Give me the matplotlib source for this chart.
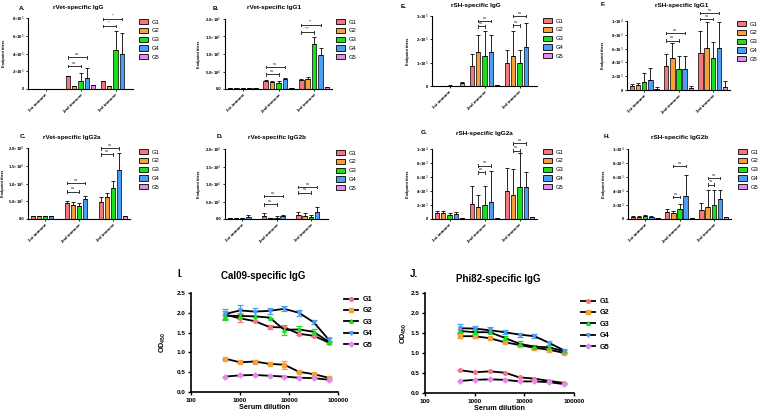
import matplotlib.pyplot as plt
import numpy as np
from matplotlib.patches import Rectangle
from matplotlib.lines import Line2D

plt.rcParams['font.family'] = ['Liberation Sans', 'DejaVu Sans']
plt.rcParams['mathtext.fontset'] = 'custom'
plt.rcParams['mathtext.rm'] = 'Liberation Sans'
plt.rcParams['mathtext.bf'] = 'Liberation Sans:bold'

groups = ['G1', 'G2', 'G3', 'G4', 'G5']
immunes = ['1st immune', '2nd immune', '3rd immune']
bar_colors = ['#F4777F', '#F5A03C', '#19E01F', '#4A9FF5', '#E58BEB']

# rows = G1..G5, columns = 1st / 2nd / 3rd immune
a_mean = [[2000, 143000, 87000], [2000, 38000, 30000], [2000, 87000, 445000],
          [3000, 125000, 390000], [2000, 40000, 3000]]
a_err = [[0, 0, 0], [0, 0, 0], [0, 94000, 210000], [0, 106000, 240000], [0, 10000, 0]]
a_sig = [(1, 0, 2, 260000, 'ns'), (1, 0, 3, 355000, 'ns'),
         (2, 0, 2, 710000, '*'), (2, 0, 3, 790000, '*')]

b_mean = [[4000, 22000, 26000], [4000, 19000, 29000], [3000, 17000, 128000],
          [4000, 29000, 97000], [3000, 4000, 5000]]
b_err = [[0, 5000, 2000], [0, 4000, 4000], [0, 5000, 21000], [0, 3000, 19000], [0, 0, 0]]
b_sig = [(1, 0, 2, 42000, 'ns'), (1, 0, 3, 63000, 'ns'),
         (2, 0, 2, 162000, '***'), (2, 0, 3, 183000, '**')]

c_mean = [[950, 4380, 4860], [950, 4000, 6100], [950, 3600, 8860],
          [950, 5600, 13700], [0, 0, 860]]
c_err = [[0, 700, 1300], [0, 700, 1200], [0, 1000, 1900], [0, 900, 4800], [0, 0, 0]]
c_sig = [(1, 0, 2, 7700, 'ns'), (1, 0, 3, 10100, 'ns'),
         (2, 0, 2, 18200, 'ns'), (2, 0, 3, 19900, 'ns')]

d_mean = [[400, 960, 1050], [200, 290, 960], [400, 400, 670],
          [700, 860, 2100], [100, 100, 100]]
d_err = [[0, 800, 900], [0, 0, 800], [0, 400, 500], [400, 300, 1400], [0, 0, 0]]
d_sig = [(1, 0, 2, 4200, 'ns'), (1, 0, 3, 6600, 'ns'),
         (2, 0, 2, 7500, 'ns'), (2, 0, 3, 9200, 'ns')]

e_mean = [[2000, 84000, 100000], [2000, 146000, 128000], [2000, 128000, 100000],
          [2000, 146000, 168000], [11000, 4000, 1000]]
e_err = [[0, 53000, 54000], [0, 71000, 108000], [2000, 108000, 54000],
         [0, 71000, 102000], [8000, 0, 0]]
e_sig = [(1, 1, 2, 256000, 'ns'), (1, 1, 3, 279000, 'ns'),
         (2, 1, 2, 260000, 'ns'), (2, 1, 3, 299000, 'ns')]

f_mean = [[580, 3500, 5340], [680, 4610, 6070], [1120, 3060, 4610],
          [1460, 3060, 6070], [190, 290, 390]]
f_err = [[240, 1700, 3150], [390, 2190, 3740], [1310, 1800, 2280],
         [1800, 1800, 3740], [300, 300, 920]]
f_sig = [(1, 0, 2, 7140, 'ns'), (1, 0, 3, 8250, 'ns'),
         (2, 0, 2, 10290, 'ns'), (2, 0, 3, 11170, 'ns')]

g_mean = [[800, 2200, 4040], [800, 1700, 3430], [600, 2000, 4530],
          [700, 2500, 4530], [100, 100, 300]]
g_err = [[400, 2500, 3290], [400, 1800, 3710], [300, 2700, 4940],
         [300, 4400, 2230], [0, 0, 0]]
g_sig = [(1, 1, 2, 6670, 'ns'), (1, 1, 3, 7620, 'ns'),
         (2, 1, 2, 9760, 'ns'), (2, 1, 3, 10810, 'ns')]

h_mean = [[300, 1000, 1300], [300, 800, 1700], [400, 1500, 2000],
          [300, 3240, 2900], [100, 100, 300]]
h_err = [[100, 500, 1000], [200, 400, 2400], [200, 600, 2100],
         [200, 3000, 1200], [0, 0, 0]]
h_sig = [(1, 1, 2, 3130, 'ns'), (1, 1, 3, 7600, 'ns'),
         (2, 1, 2, 4900, 'ns'), (2, 1, 3, 5860, 'ns')]

dilution = [500, 1000, 2000, 4000, 8000, 16000, 32000, 64000]
cal_mean = [[1.95, 1.86, 1.79, 1.64, 1.63, 1.47, 1.42, 1.25],
            [0.84, 0.75, 0.77, 0.71, 0.69, 0.51, 0.45, 0.36],
            [1.93, 1.92, 1.91, 1.88, 1.57, 1.58, 1.52, 1.27],
            [1.97, 2.06, 2.03, 2.05, 2.10, 2.00, 1.76, 1.33],
            [0.39, 0.42, 0.43, 0.41, 0.39, 0.36, 0.35, 0.31]]
cal_err = [[0, 0.10, 0, 0.04, 0, 0.03, 0.03, 0.03],
           [0, 0.03, 0.04, 0, 0.10, 0, 0, 0.02],
           [0.12, 0.08, 0, 0, 0.12, 0.08, 0.08, 0],
           [0.12, 0.13, 0.10, 0.08, 0.06, 0.08, 0.05, 0.04],
           [0, 0, 0, 0, 0, 0, 0, 0]]
phi_mean = [[0.57, 0.52, 0.54, 0.51, 0.39, 0.36, 0.30, 0.25],
            [1.42, 1.42, 1.37, 1.27, 1.20, 1.13, 1.08, 1.00],
            [1.55, 1.52, 1.52, 1.38, 1.23, 1.16, 1.14, 1.04],
            [1.62, 1.61, 1.57, 1.52, 1.46, 1.42, 1.25, 1.06],
            [0.30, 0.33, 0.34, 0.33, 0.29, 0.29, 0.27, 0.22]]
phi_err = [[0, 0, 0, 0, 0, 0, 0, 0],
           [0.05, 0.05, 0, 0, 0, 0, 0, 0],
           [0.05, 0.05, 0, 0.05, 0.06, 0.05, 0.05, 0.03],
           [0.10, 0.06, 0.07, 0.05, 0.05, 0.05, 0.04, 0.04],
           [0, 0, 0, 0, 0, 0, 0, 0]]
line_markers = ['o', 's', '^', 'v', 'D']

W, H = 760, 416
fig = plt.figure(figsize=(7.6, 4.16), dpi=100)


def rect(l, t, r, b):
    return [l / W, 1 - b / H, (r - l) / W, (b - t) / H]


def fxy(x, y):
    return (x / W, 1 - y / H)


def bar_panel(box, mean, err, sig, ymax, ticks, ticklabels, title, letter,
              title_xy, letter_xy, ylab_x, leg_xy):
    ax = fig.add_axes(rect(*box))
    x = np.arange(3)
    for i in range(5):
        ax.bar(x + (i - 2) * 0.18, mean[i], 0.13, color=bar_colors[i],
               edgecolor='black', linewidth=0.5,
               yerr=[np.zeros(3), err[i]],
               error_kw=dict(ecolor='black', elinewidth=0.6, capsize=1.2, capthick=0.6))
    d = ymax * 0.018
    for grp, i, j, y, txt in sig:
        x1 = grp + (i - 2) * 0.18
        x2 = grp + (j - 2) * 0.18
        ax.plot([x1, x2], [y, y], color='#333333', lw=0.7, clip_on=False)
        for xe in (x1, x2):
            ax.plot([xe, xe], [y - d, y + d], color='#333333', lw=0.7, clip_on=False)
        ax.text((x1 + x2) / 2, y + d, txt, fontsize=3, ha='center', va='bottom',
                color='#333333')
    ax.set_xlim(-0.5, 2.5)
    ax.set_ylim(0, ymax)
    ax.set_yticks(ticks)
    ax.set_yticklabels(ticklabels, fontsize=3, fontweight='bold')
    ax.set_xticks(x)
    ax.set_xticklabels(immunes, rotation=45, ha='right', rotation_mode='anchor',
                       fontsize=3.2, fontweight='bold')
    ax.tick_params(length=1.5, width=0.6, pad=1)
    for s in ('top', 'right'):
        ax.spines[s].set_visible(False)
    for s in ('left', 'bottom'):
        ax.spines[s].set_linewidth(0.8)
    fig.text(*fxy(*title_xy), title, fontsize=4.6, fontweight='bold', ha='center', va='center')
    fig.text(*fxy(*letter_xy), letter, fontsize=4.6, fontweight='bold', ha='center', va='center')
    fig.text(*fxy(ylab_x, (box[1] + box[3]) / 2), 'Endpoint titers', fontsize=2.8,
             fontweight='bold', rotation=90, ha='center', va='center')
    handles = [Rectangle((0, 0), 1, 1, facecolor=c, edgecolor='black', linewidth=0.6)
               for c in bar_colors]
    fig.legend(handles, groups, loc='upper left', bbox_to_anchor=fxy(*leg_xy),
               frameon=False, borderaxespad=0, borderpad=0, fontsize=4.2,
               handlelength=1.5, handleheight=1.0, handletextpad=0.7, labelspacing=0.55)
    return ax


sci = lambda m, e: r'%s$\times$10$^{%d}$' % (m, e)

bar_panel((28, 18, 133, 89), a_mean, a_err, a_sig, 8e5, [0, 2e5, 4e5, 6e5, 8e5],
          ['0', sci('2', 5), sci('4', 5), sci('6', 5), sci('8', 5)],
          'rVet-specific IgG', 'A.', (78, 8), (22, 8), 4, (139, 19))
bar_panel((225, 19, 332, 89), b_mean, b_err, b_sig, 2e5, [0, 5e4, 1e5, 1.5e5, 2e5],
          ['0.0', sci('5.0', 4), sci('1.0', 5), sci('1.5', 5), sci('2.0', 5)],
          'rVet-specific IgG1', 'B.', (274, 8), (216, 8), 199, (336, 19))
bar_panel((28, 148, 130, 219), c_mean, c_err, c_sig, 2e4, [0, 5e3, 1e4, 1.5e4, 2e4],
          ['0.0', sci('5.0', 3), sci('1.0', 4), sci('1.5', 4), sci('2.0', 4)],
          'rVet-specific IgG2a', 'C.', (72, 137), (23, 137), 3, (139, 149))
bar_panel((225, 149, 328, 219), d_mean, d_err, d_sig, 2e4, [0, 5e3, 1e4, 1.5e4, 2e4],
          ['0.0', sci('5.0', 3), sci('1.0', 4), sci('1.5', 4), sci('2.0', 4)],
          'rVet-specific IgG2b', 'D.', (277, 137), (220, 137), 199, (336, 150))
bar_panel((432, 16, 537, 86), e_mean, e_err, e_sig, 3e5, [0, 1e5, 2e5, 3e5],
          ['0', sci('1', 5), sci('2', 5), sci('3', 5)],
          'rSH-specific IgG', 'E.', (476, 6), (404, 6), 408, (543, 18))
bar_panel((627, 21, 730, 90), f_mean, f_err, f_sig, 1e4, [0, 2e3, 4e3, 6e3, 8e3, 1e4],
          ['0', sci('2', 3), sci('4', 3), sci('6', 3), sci('8', 3), sci('1', 4)],
          'rSH-specific IgG1', 'F.', (682, 5), (603, 5), 603, (737, 21))
bar_panel((432, 149, 537, 219), g_mean, g_err, g_sig, 1e4, [0, 2e3, 4e3, 6e3, 8e3, 1e4],
          ['0', sci('2', 3), sci('4', 3), sci('6', 3), sci('8', 3), sci('1', 4)],
          'rSH-specific IgG2a', 'G.', (484, 133), (424, 133), 408, (543, 149))
bar_panel((628, 149, 731, 219), h_mean, h_err, h_sig, 1e4, [0, 2e3, 4e3, 6e3, 8e3, 1e4],
          ['0', sci('2', 3), sci('4', 3), sci('6', 3), sci('8', 3), sci('1', 4)],
          'rSH-specific IgG2b', 'H.', (680, 137), (607, 137), 604, (738, 149))


def line_panel(box, mean, err, title, letter, title_xy, letter_xy, ylab_xy, leg_xy):
    ax = fig.add_axes(rect(*box))
    for i in range(5):
        ax.errorbar(dilution, mean[i], yerr=err[i], color='black', lw=1.3,
                    marker=line_markers[i], markersize=2.6, markerfacecolor=bar_colors[i],
                    markeredgecolor=bar_colors[i], ecolor=bar_colors[i], elinewidth=0.9,
                    capsize=2, capthick=0.9, zorder=3)
    ax.set_xscale('log')
    ax.set_xlim(100, 100000)
    ax.set_ylim(0, 2.5)
    ax.set_xticks([100, 1000, 10000, 100000])
    ax.set_xticklabels(['100', '1000', '10000', '100000'], fontsize=4.6, fontweight='bold')
    ax.minorticks_off()
    ax.set_yticks([0, 0.5, 1.0, 1.5, 2.0, 2.5])
    ax.set_yticklabels(['0.0', '0.5', '1.0', '1.5', '2.0', '2.5'], fontsize=4.6,
                       fontweight='bold')
    ax.tick_params(length=2.5, width=1, pad=1.5)
    for s in ('top', 'right'):
        ax.spines[s].set_visible(False)
    for s in ('left', 'bottom'):
        ax.spines[s].set_linewidth(1.2)
    ax.set_xlabel('Serum dilution', fontsize=5.2, fontweight='bold', labelpad=1)
    fig.text(*fxy(*ylab_xy), r'OD$_{\mathbf{450}}$', fontsize=5.2, fontweight='bold',
             rotation=90, ha='center', va='center')
    fig.text(*fxy(*title_xy), title, fontsize=7, fontweight='bold', ha='center', va='center')
    fig.text(*fxy(*letter_xy), letter, fontsize=7, fontweight='bold', ha='center', va='center')
    handles = [Line2D([], [], color='black', lw=1.3, marker=line_markers[i], markersize=2.6,
                      markerfacecolor=bar_colors[i], markeredgecolor=bar_colors[i])
               for i in range(5)]
    fig.legend(handles, groups, loc='upper left', bbox_to_anchor=fxy(*leg_xy),
               frameon=False, borderaxespad=0, borderpad=0, prop=dict(size=5.2, weight='bold'),
               handlelength=2.0, handletextpad=0.6, labelspacing=0.6)
    return ax


line_panel((191, 293, 338, 392), cal_mean, cal_err, 'Cal09-specific IgG', 'I.',
           (263, 276), (180, 274), (163, 342), (344, 296))
line_panel((425, 293, 574, 393), phi_mean, phi_err, 'Phi82-specific IgG', 'J.',
           (498, 279), (414, 274), (404, 333), (581, 298))

fig.savefig('out.png', dpi=100)
